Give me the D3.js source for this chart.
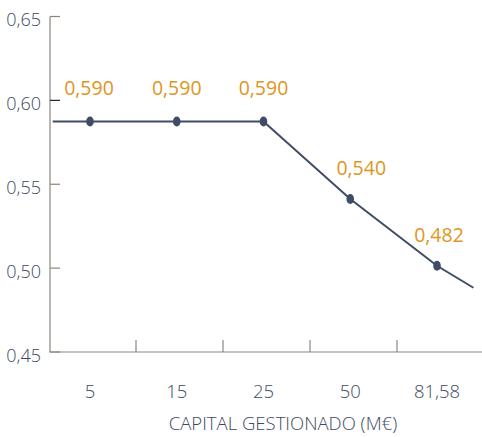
<!DOCTYPE html>
<html>
<head>
<meta charset="utf-8">
<script src="https://cdn.jsdelivr.net/npm/d3@7"></script>
<style>
  html, body { margin: 0; padding: 0; background: #ffffff; }
  svg { display: block; }
  text { font-family: "Open Sans", "Noto Sans", sans-serif; }
</style>
</head>
<body>
<svg id="chart" width="482" height="437"></svg>
<script>
// ---- data ----
const categories = ["5", "15", "25", "50", "81,58"];
const pointValues = [0.5874, 0.5874, 0.5874, 0.5412, 0.5014];
const valueLabels = ["0,590", "0,590", "0,590", "0,540", "0,482"];
// line path (category index, value), extends slightly beyond first/last point
const lineIndex = [-0.43, 0, 1, 2, 3, 4, 4.42];
const lineValues = [0.5874, 0.5874, 0.5874, 0.5874, 0.5412, 0.5014, 0.4883];
const yTicks = [0.45, 0.50, 0.55, 0.60, 0.65];
const yTickLabels = ["0,45", "0,50", "0,55", "0,60", "0,65"];
const xTitle = "CAPITAL GESTIONADO (M€)";

// ---- styles ----
const textColor = "#3d4a62";
const axisColor = "#8e857d";
const lineColor = "#3e4d65";
const labelColor = "#e0951c";
const labelDx = [-1, 0, 0, 11, 2];
const labelDy = [-26.5, -26.5, -26.5, -24, -24];

const svg = d3.select("#chart");

const y = d3.scaleLinear().domain([0.45, 0.65]).range([352, 16.5]);
const xBand = d3.scaleBand().domain(categories).range([49, 484]);
const xIdx = d3.scaleLinear().domain([0, 4]).range([90, 437]);

// y axis line
svg.append("line")
  .attr("x1", 50).attr("x2", 50)
  .attr("y1", y(0.65)).attr("y2", y(0.45))
  .attr("stroke", axisColor).attr("stroke-width", 1.2);

// y ticks
svg.selectAll(".ytick").data(yTicks).enter().append("line")
  .attr("x1", 50).attr("x2", 60)
  .attr("y1", d => y(d)).attr("y2", d => y(d))
  .attr("stroke", (d, i) => i === 3 ? "#2a2a2a" : axisColor)
  .attr("stroke-width", 1.2);

svg.selectAll(".ylabel").data(yTicks).enter().append("text")
  .attr("x", 41)
  .attr("y", d => y(d) + 2.5)
  .attr("text-anchor", "end")
  .attr("dominant-baseline", "central")
  .attr("fill", textColor)
  .attr("font-size", "18px")
  .attr("font-weight", 300)
  .text((d, i) => yTickLabels[i]);

// x axis line
svg.append("line")
  .attr("x1", 49.4).attr("x2", 482)
  .attr("y1", y(0.45)).attr("y2", y(0.45))
  .attr("stroke", axisColor).attr("stroke-width", 1.2);

// x ticks between categories
svg.selectAll(".xtick").data(categories.slice(1)).enter().append("line")
  .attr("x1", d => xBand(d)).attr("x2", d => xBand(d))
  .attr("y1", y(0.45) - 12).attr("y2", y(0.45))
  .attr("stroke", axisColor).attr("stroke-width", 1.2);

// x category labels
svg.selectAll(".xlabel").data(categories).enter().append("text")
  .attr("x", (d, i) => xIdx(i))
  .attr("y", 398)
  .attr("text-anchor", "middle")
  .attr("fill", textColor)
  .attr("font-size", "18.5px")
  .attr("font-weight", 300)
  .text(d => d);

// x title
svg.append("text")
  .attr("x", 283).attr("y", 430)
  .attr("text-anchor", "middle")
  .attr("fill", textColor)
  .attr("font-size", "18.5px")
  .attr("font-weight", 300)
  .text(xTitle);

// line
const lineData = lineIndex.map((d, i) => [d, lineValues[i]]);
svg.append("path")
  .datum(lineData)
  .attr("fill", "none")
  .attr("stroke", lineColor)
  .attr("stroke-width", 2)
  .attr("d", d3.line().x(d => xIdx(d[0])).y(d => y(d[1])));

// points
svg.selectAll(".pt").data(pointValues).enter().append("ellipse")
  .attr("cx", (d, i) => xIdx(i))
  .attr("cy", d => y(d))
  .attr("rx", 3.8).attr("ry", 5)
  .attr("fill", lineColor);

// value labels
svg.selectAll(".vlabel").data(pointValues).enter().append("text")
  .attr("x", (d, i) => xIdx(i) + labelDx[i])
  .attr("y", (d, i) => y(d) + labelDy[i])
  .attr("text-anchor", "middle")
  .attr("fill", labelColor)
  .attr("font-size", "19.5px")
  .text((d, i) => valueLabels[i]);
</script>
</body>
</html>
